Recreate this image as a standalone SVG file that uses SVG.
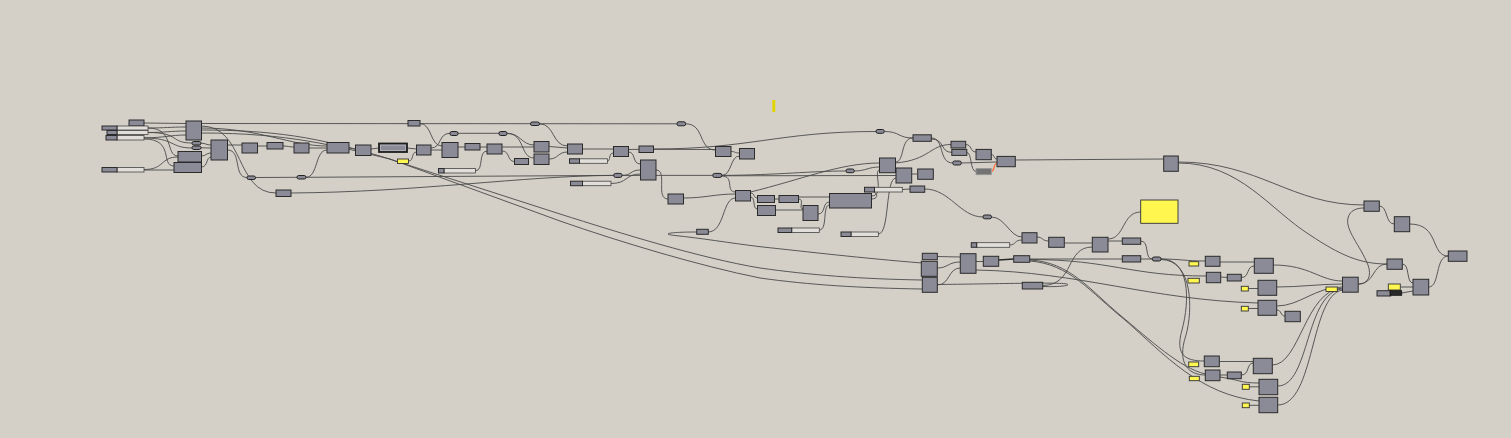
<svg xmlns="http://www.w3.org/2000/svg" width="1511" height="438" viewBox="0 0 1511 438">
<style>
.n{fill:#8b8a97;stroke:#2b2b2b;stroke-width:1}
.o{fill:#8b8a97;stroke:#222;stroke-width:1}
.pl{fill:#e2dfda;stroke:#444;stroke-width:0.8}
.y{fill:#fff650;stroke:#333;stroke-width:0.9}
.w{fill:none;stroke:#4a4a4a;stroke-width:0.9}
.wt{fill:none;stroke:#2a2a2a;stroke-width:1.7}
</style>
<rect width="1511" height="438" fill="#d4d0c8"/>
<g id="wires">
<path class="w" d="M144,123 L186,123.5"/>
<path class="w" d="M201,123.5 L677,123.8"/>
<path class="w" d="M148,128 C165,128 170,127 186,127"/>
<path class="w" d="M148,132.5 C165,132.5 170,131 186,131"/>
<path class="w" d="M144,137.8 C165,137.8 170,135 186,135"/>
<path class="w" d="M148,128 C175,128 165,156 178,156"/>
<path class="w" d="M148,132.5 C180,132.5 170,143 192,143"/>
<path class="w" d="M144,138 C175,138 170,148 192,148"/>
<path class="w" d="M144,139 C175,139 160,166 174,166"/>
<path class="w" d="M144,169.5 C165,169.5 160,157 178,157"/>
<path class="w" d="M144,170 L174,170"/>
<path class="w" d="M201,143.2 C206,143.2 206,145 211,145"/>
<path class="w" d="M201,147.8 L211,148"/>
<path class="w" d="M201.5,156 C206,156 206,153 211,153"/>
<path class="w" d="M201.5,167 C208,167 206,157 211,157"/>
<path class="w" d="M227.5,145 L242,145"/>
<path class="w" d="M257.5,146 L267,146"/>
<path class="w" d="M283,146 C288,146 289,147 294,147"/>
<path class="w" d="M309,148 L327,148"/>
<path class="w" d="M227.5,150 C242,150 233,177.5 247,177.5"/>
<path class="w" d="M255.5,177.5 L297,177.3"/>
<path class="w" d="M306,177.3 C318,177.3 315,150 327,150"/>
<path class="w" d="M201,126 C245,126 235,193 276,193"/>
<path class="w" d="M201,128 C260,128 290,146 327,146"/>
<path class="w" d="M201,130 C290,130 330,142 380,156 L560,214 C620,233 700,258 760,268 C810,275 860,279 922,280"/>
<path class="w" d="M201,133 C290,133 335,146 390,159 L560,221 C620,242 700,266 760,278 C810,285 860,288 922,289"/>
<path class="w" d="M937,284.5 C990,284 1060,282 1067,284 C1072,286 1055,287 1042.7,286.5"/>
<path class="w" d="M696.7,232 C670,232 660,234 675,235.5 C700,238 730,243 760,246.7 C810,252 860,258 922,263"/>
<path class="w" d="M349,148 L355.5,149"/>
<path class="w" d="M371,149 L379,148"/>
<path class="w" d="M407,148 L416.5,149"/>
<path class="w" d="M408.7,161 C414,161 411,152 416.5,152"/>
<path class="w" d="M420,123.5 C432,123.5 430,146 442,146"/>
<path class="w" d="M431,150 L442,150"/>
<path class="w" d="M431,148 C442,148 438,133.3 450,133.3"/>
<path class="w" d="M458,133.3 L499,133.3"/>
<path class="w" d="M458,147 L465,147"/>
<path class="w" d="M480,147 L487,147"/>
<path class="w" d="M475.5,170.8 C484,170.8 478,151 487,151"/>
<path class="w" d="M502.3,147 L534,147"/>
<path class="w" d="M502.3,151 C510,151 507,161.5 514.5,161.5"/>
<path class="w" d="M507.3,133.3 C520,133.3 522,145 534,145"/>
<path class="w" d="M507.3,133.5 C525,133.5 520,158 534,158"/>
<path class="w" d="M549.3,146.5 L567.5,148"/>
<path class="w" d="M549.3,159 C558,159 558,152 567.5,152"/>
<path class="w" d="M539.3,123.8 C555,123.8 552,146 567.5,146"/>
<path class="w" d="M582.5,149 L613.5,149"/>
<path class="w" d="M607.5,161 C611,161 608,153 613.5,153"/>
<path class="w" d="M628.5,149.5 L639,149.3"/>
<path class="w" d="M628.5,152 C636,152 632,164 640.5,164"/>
<path class="w" d="M622,175.4 C632,175.4 630,170 640.5,170"/>
<path class="w" d="M611,183.5 C628,183.5 625,174 640.5,174"/>
<path class="w" d="M291,193 C420,192 520,176 613.8,175.4"/>
<path class="w" d="M306,177.3 L613.8,175.4"/>
<path class="w" d="M622,175.4 L712.8,175.4"/>
<path class="w" d="M685.6,123.8 C705,123.8 698,150 715.5,150"/>
<path class="w" d="M653.5,149.3 L715.5,149.5"/>
<path class="w" d="M653.5,149 C750,149 780,131.5 876,131.5"/>
<path class="w" d="M731,151.5 C736,151.5 734,153 739.5,153"/>
<path class="w" d="M721.7,175.4 C732,175.4 730,156 739.5,156"/>
<path class="w" d="M656,170 C668,170 655,199 668,199"/>
<path class="w" d="M683.5,198 C705,198 715,194 735.5,194"/>
<path class="w" d="M721.7,176 C735,176 725,192 735.5,192"/>
<path class="w" d="M708,232 C725,232 722,198 735.5,198"/>
<path class="w" d="M750.5,193 C755,193 753,198 757.5,198"/>
<path class="w" d="M750.5,197 C756,197 752,209 757.5,209"/>
<path class="w" d="M774.5,199 L779,199"/>
<path class="w" d="M798.5,197 L829.5,197"/>
<path class="w" d="M798.5,199 C805,199 798,209 803,209"/>
<path class="w" d="M775.5,210 L803,210"/>
<path class="w" d="M818,214 C826,214 822,202 829.5,202"/>
<path class="w" d="M819.3,230 C828,230 822,205 829.5,205"/>
<path class="w" d="M750.5,192 C800,180 840,163 879.5,163"/>
<path class="w" d="M721.7,175.4 C780,175 810,171 846,171"/>
<path class="w" d="M854.3,171 C866,171 868,167 879.5,167"/>
<path class="w" d="M721.7,175.8 L896,175.5"/>
<path class="w" d="M871.5,199 C880,199 878,190 866,189.6"/>
<path class="w" d="M878.3,234 C890,234 885,178 896,178"/>
<path class="w" d="M871.5,196 C885,196 873,170 879.5,170"/>
<path class="w" d="M902.3,189.5 L910,189"/>
<path class="w" d="M911.7,174 L917.7,174"/>
<path class="w" d="M924.7,189 C950,189 960,217 983,217"/>
<path class="w" d="M884.3,131.5 C900,131.5 898,138 913,138"/>
<path class="w" d="M895.5,162 C905,162 900,138 913,138"/>
<path class="w" d="M895.5,163 C930,160 930,144.5 951,144.5"/>
<path class="w" d="M931.3,138 C945,138 938,163 952.8,163"/>
<path class="w" d="M931.3,139 C945,139 940,152.4 951.8,152.4"/>
<path class="w" d="M965.7,144.5 C972,144.5 970,152 976,152"/>
<path class="w" d="M966.8,152.4 C972,152.4 970,171.5 976,171.5"/>
<path class="w" d="M961.3,163 L997,162"/>
<path class="w" d="M991.3,154.5 C995,154.5 993,159 997,159"/>
<path fill="none" stroke="#ff6a2a" stroke-width="1.2" d="M991.3,171.5 C995,171.5 993,163.5 997,163.5"/>
<path class="w" d="M1015.3,160 L1163.7,159"/>
<path class="w" d="M1178.3,162 C1260,162 1290,205 1364,205"/>
<path class="w" d="M1178.3,163 C1240,163 1270,210 1310,235 C1340,255 1360,264 1387,264"/>
<path class="w" d="M1379.3,206 C1388,206 1385,224 1394.3,224"/>
<path class="w" d="M1409.7,224 C1440,224 1430,256 1448.3,256"/>
<path class="w" d="M1358.3,284 C1375,284 1372,264 1387,264"/>
<path class="w" d="M1358.3,284.3 C1368,284 1372,276 1368,265 C1360,245 1345,230 1348,218 C1350,210 1357,208 1364,208"/>
<path class="w" d="M1402.3,264 C1410,264 1406,283 1413,283"/>
<path class="w" d="M1400.3,287 L1413,287"/>
<path class="w" d="M1401.7,293 L1413,291"/>
<path class="w" d="M1428.7,287 C1440,287 1435,256 1448.3,256"/>
<path class="w" d="M991.5,217 C1005,217 1010,237 1022,237"/>
<path class="w" d="M1009.7,245 C1016,245 1014,240 1022,240"/>
<path class="w" d="M1037,237 C1043,237 1042,241 1048.7,241"/>
<path class="w" d="M1064.3,243 L1092.3,243"/>
<path class="w" d="M1042.7,285.5 C1075,285 1065,247 1092.3,247"/>
<path class="w" d="M1108,241 L1122.3,241"/>
<path class="w" d="M1108,239 C1125,239 1122,212 1140.7,212"/>
<path class="w" d="M1140.7,241 C1150,241 1144,259 1152.3,259"/>
<path class="w" d="M1140.7,259 L1152.3,259"/>
<path class="w" d="M937.3,256.5 L960.3,257"/>
<path class="w" d="M937.3,268 C948,268 948,262 960.3,262"/>
<path class="w" d="M937.3,285 C950,285 948,268 960.3,268"/>
<path class="w" d="M976,261.5 L983.3,261.5"/>
<path class="wt" d="M998.7,260 L1013.7,259"/>
<path class="w" d="M1029.7,259 L1122.3,259"/>
<path class="w" d="M1029.7,259.5 C1110,259.5 1130,276 1206.3,276"/>
<path class="w" d="M976,270 C1080,272 1150,300 1258,303"/>
<path class="w" d="M1029.7,260 C1070,262 1090,290 1120,315 C1150,340 1180,368 1205.3,374"/>
<path class="w" d="M1029.7,261 C1070,264 1090,292 1125,320 C1165,355 1200,395 1259,401"/>
<path class="w" d="M1161,259 C1180,259 1185,261 1205.3,261"/>
<path class="w" d="M1161,259 C1190,259 1190,300 1182,330 C1175,355 1185,361 1204.3,361"/>
<path class="w" d="M1161,259.5 C1193,260 1193,310 1186,335 C1176,365 1190,375 1205.3,375"/>
<path class="w" d="M1220,262 L1254.3,262"/>
<path class="w" d="M1241.3,277.5 C1250,277.5 1246,266 1254.3,266"/>
<path class="w" d="M1220.7,277 L1227.3,277.5"/>
<path class="w" d="M1248.3,288.5 L1258,288.5"/>
<path class="w" d="M1248.3,308.5 L1258,308.5"/>
<path class="w" d="M1276.7,310 C1282,310 1280,316 1285,316"/>
<path class="w" d="M1273.3,265 C1310,265 1320,281 1342.5,281"/>
<path class="w" d="M1276.7,287 C1300,287 1320,284 1342.5,284"/>
<path class="w" d="M1276.7,306 C1300,306 1315,287 1342.5,287"/>
<path class="w" d="M1272.3,365 C1300,365 1305,290 1342.5,288"/>
<path class="w" d="M1277.7,386 C1310,386 1305,292 1342.5,289"/>
<path class="w" d="M1277.7,405 C1315,405 1310,295 1342.5,290"/>
<path class="w" d="M1219.3,361.5 L1253.3,361.5"/>
<path class="w" d="M1241.3,375 C1250,375 1246,363 1253.3,363"/>
<path class="w" d="M1220,375 L1227.3,375"/>
<path class="w" d="M1220,377 C1240,380 1240,383 1259,383"/>
<path class="w" d="M1249.3,386.8 L1259,386.8"/>
<path class="w" d="M1249.3,405.3 L1259,405.3"/>
</g>
<g id="n1"><rect class="n" x="129" y="120" width="15" height="6"/></g>
<g id="s1"><rect class="pl" x="117" y="126" width="31" height="4"/><rect class="n" x="102" y="126" width="15" height="4"/></g>
<g id="s2"><rect class="pl" x="117" y="130.5" width="31" height="4"/><rect class="n" x="107" y="130.5" width="10" height="4"/></g>
<g id="s3"><rect class="pl" x="117" y="135.5" width="27" height="4.5"/><rect class="n" x="106" y="135.5" width="11" height="4.5"/></g>
<g id="s4"><rect class="pl" x="117" y="167.5" width="27" height="4.5"/><rect class="n" x="102" y="167.5" width="15" height="4.5"/></g>
<g id="n2"><rect class="n" x="186" y="121" width="15.5" height="19"/></g>
<g id="o1"><rect class="o" x="192" y="141.5" width="9" height="3.5" rx="1.7"/></g>
<g id="o2"><rect class="o" x="192" y="146" width="9" height="3.5" rx="1.7"/></g>
<g id="n3"><rect class="n" x="211" y="140" width="16.5" height="20"/></g>
<g id="n4"><rect class="n" x="178" y="151.5" width="23.5" height="10.5"/></g>
<g id="n5"><rect class="n" x="174" y="162.5" width="27.5" height="10"/></g>
<g id="n6"><rect class="n" x="242" y="143" width="15.5" height="10"/></g>
<g id="n7"><rect class="n" x="267" y="142.5" width="16" height="6.5"/></g>
<g id="n8"><rect class="n" x="294" y="143" width="15" height="10"/></g>
<g id="n9"><rect class="n" x="327" y="142.5" width="22" height="10.5"/></g>
<g id="o3"><rect class="o" x="247" y="176" width="8.5" height="3.5" rx="1.7"/></g>
<g id="o4"><rect class="o" x="297" y="175.5" width="9" height="3.5" rx="1.7"/></g>
<g id="n10"><rect class="n" x="276" y="190" width="15" height="6.5"/></g>
<g id="n11"><rect class="n" x="355.5" y="145" width="15.5" height="10.5"/></g>
<g id="n12"><rect fill="#8b8a97" stroke="#1e1e1e" stroke-width="1.8" x="379" y="143.5" width="28" height="8.5"/><rect fill="none" stroke="#c4c3cc" stroke-width="0.6" x="380.6" y="145.1" width="24.8" height="5.3"/></g>
<g id="n13"><rect class="n" x="408" y="120.5" width="12" height="5.5"/></g>
<g id="y1"><rect class="y" x="397.5" y="159" width="11" height="4.5"/></g>
<g id="n14"><rect class="n" x="416.5" y="145" width="14.5" height="10"/></g>
<g id="n15"><rect class="n" x="442" y="142.5" width="16" height="15"/></g>
<g id="o5"><rect class="o" x="450" y="131.5" width="8" height="4" rx="1.8"/></g>
<g id="n16"><rect class="n" x="465" y="143.5" width="15" height="6.5"/></g>
<g id="n17"><rect class="n" x="487" y="144" width="15" height="10"/></g>
<g id="o6"><rect class="o" x="499" y="131.5" width="8" height="4" rx="1.8"/></g>
<g id="o7"><rect class="o" x="530.5" y="122" width="9" height="3.5" rx="1.7"/></g>
<g id="n18"><rect class="n" x="514.5" y="158.5" width="14" height="6"/></g>
<g id="n19"><rect class="n" x="534" y="141.5" width="15" height="10.5"/></g>
<g id="n20"><rect class="n" x="534" y="154" width="15" height="10.5"/></g>
<g id="n21"><rect class="n" x="567.5" y="144" width="15" height="10"/></g>
<g id="p5"><rect class="pl" x="444" y="168.5" width="31.5" height="4.5"/><rect class="n" x="438.5" y="168.5" width="5.5" height="4.5"/></g>
<g id="p6"><rect class="pl" x="579.5" y="158.8" width="28" height="4.5"/><rect class="n" x="569.5" y="158.8" width="10" height="4.5"/></g>
<g id="p7"><rect class="pl" x="582.5" y="181.2" width="28.5" height="4.5"/><rect class="n" x="570.5" y="181.2" width="12" height="4.5"/></g>
<g id="n22"><rect class="n" x="613.5" y="146.5" width="15" height="10"/></g>
<g id="n23"><rect class="n" x="639" y="146" width="14.5" height="6.5"/></g>
<g id="n24"><rect class="n" x="640.5" y="160" width="15.5" height="20"/></g>
<g id="o8"><rect class="o" x="613.8" y="173.4" width="8.2" height="4" rx="1.8"/></g>
<g id="o9"><rect class="o" x="677" y="121.8" width="8.6" height="4" rx="1.8"/></g>
<g id="o10"><rect class="o" x="712.8" y="173.4" width="9" height="4" rx="1.8"/></g>
<g id="n25"><rect class="n" x="715.5" y="146.5" width="15.5" height="10"/></g>
<g id="n26"><rect class="n" x="739.5" y="148.5" width="15" height="10.5"/></g>
<g id="n27"><rect class="n" x="668" y="194" width="15.5" height="10"/></g>
<g id="n28"><rect class="n" x="735.5" y="190.5" width="15" height="10.5"/></g>
<g id="n29"><rect class="n" x="757.5" y="195.5" width="17" height="7"/></g>
<g id="n30"><rect class="n" x="779" y="195.5" width="19.5" height="7"/></g>
<g id="n31"><rect class="n" x="757.5" y="205.5" width="18" height="10"/></g>
<g id="n32"><rect class="n" x="803" y="205.5" width="15" height="15"/></g>
<g id="n33"><rect class="n" x="829.5" y="193.5" width="42" height="14.5"/></g>
<g id="n34"><rect class="n" x="696.7" y="229.3" width="11.6" height="5"/></g>
<g id="p8"><rect class="pl" x="791.7" y="228" width="27.6" height="4.5"/><rect class="n" x="778" y="228" width="13.7" height="4.5"/></g>
<g id="p9"><rect class="pl" x="851" y="232" width="27.3" height="4.5"/><rect class="n" x="841" y="232" width="10" height="4.5"/></g>
<g id="bar"><rect x="772.3" y="100" width="3" height="12" fill="#e2d600"/></g>
<g id="o11"><rect class="o" x="876" y="129.5" width="8.3" height="3.8" rx="1.8"/></g>
<g id="n35"><rect class="n" x="913" y="134.8" width="18.3" height="6.5"/></g>
<g id="n36"><rect class="n" x="951" y="141.3" width="14.7" height="6.7"/></g>
<g id="n37"><rect class="n" x="951.8" y="149.4" width="15" height="6"/></g>
<g id="n38"><rect class="n" x="976" y="149.4" width="15.3" height="10.3"/></g>
<g id="n39"><rect class="n" x="997" y="156.4" width="18.3" height="10.3"/></g>
<g id="o12"><rect class="o" x="952.8" y="161" width="8.5" height="4" rx="1.8"/></g>
<g id="g1"><rect x="976" y="168.4" width="15.3" height="6.3" fill="#737373" stroke="#9a9a9a" stroke-width="0.8"/></g>
<g id="n40"><rect class="n" x="879.5" y="158" width="16" height="14.7"/></g>
<g id="n41"><rect class="n" x="896" y="168" width="15.7" height="15"/></g>
<g id="n42"><rect class="n" x="917.7" y="169" width="15.6" height="10.3"/></g>
<g id="o13"><rect class="o" x="846" y="169" width="8.3" height="3.7" rx="1.8"/></g>
<g id="p10"><rect class="pl" x="874.5" y="187.3" width="27.8" height="4.7"/><rect class="n" x="864.5" y="187.3" width="10" height="4.7"/></g>
<g id="n43"><rect class="n" x="910" y="186" width="14.7" height="6.3"/></g>
<g id="o14"><rect class="o" x="983" y="215" width="8.5" height="3.8" rx="1.8"/></g>
<g id="n44"><rect class="n" x="1022" y="232.7" width="15" height="10.3"/></g>
<g id="p11"><rect class="pl" x="976.7" y="242.7" width="33" height="4.6"/><rect class="n" x="971.3" y="242.7" width="5.4" height="4.6"/></g>
<g id="n45"><rect class="n" x="1048.7" y="237.3" width="15.6" height="10"/></g>
<g id="n46"><rect class="n" x="1092.3" y="237.3" width="15.7" height="14.7"/></g>
<g id="n47"><rect class="n" x="1122.3" y="238" width="18.4" height="6.3"/></g>
<g id="n48"><rect class="n" x="1122.3" y="255.7" width="18.4" height="6.3"/></g>
<g id="n49"><rect class="n" x="922.3" y="253.3" width="15" height="6.4"/></g>
<g id="n50"><rect class="n" x="921.3" y="261.3" width="16" height="15"/></g>
<g id="n51"><rect class="n" x="922.3" y="277.3" width="15" height="15"/></g>
<g id="n52"><rect class="n" x="960.3" y="253.7" width="15.7" height="19.6"/></g>
<g id="n53"><rect class="n" x="983.3" y="256.3" width="15.4" height="10"/></g>
<g id="n54"><rect class="n" x="1013.7" y="255.7" width="16" height="6.6"/></g>
<g id="n55"><rect class="n" x="1022.3" y="282.3" width="20.4" height="6.7"/></g>
<g id="n56"><rect class="n" x="1163.7" y="156" width="14.6" height="15.3"/></g>
<g id="ybig"><rect class="y" x="1140.7" y="200" width="37.3" height="23.3"/></g>
<g id="o15"><rect class="o" x="1152.3" y="257" width="8.7" height="4" rx="1.8"/></g>
<g id="ya"><rect class="y" x="1189" y="261.7" width="9.7" height="4.3"/></g>
<g id="n57"><rect class="n" x="1205.3" y="256.3" width="14.7" height="10"/></g>
<g id="n58"><rect class="n" x="1254.3" y="258.3" width="19" height="15"/></g>
<g id="yb"><rect class="y" x="1188" y="278.3" width="11.3" height="4.7"/></g>
<g id="n59"><rect class="n" x="1206.3" y="272.3" width="14.4" height="10.4"/></g>
<g id="n60"><rect class="n" x="1227.3" y="274.3" width="14" height="6.7"/></g>
<g id="yc"><rect class="y" x="1241.3" y="286.3" width="7" height="4.7"/></g>
<g id="n61"><rect class="n" x="1258" y="280.3" width="18.7" height="15"/></g>
<g id="yd"><rect class="y" x="1241.3" y="306.3" width="7" height="4.7"/></g>
<g id="n62"><rect class="n" x="1258" y="300.3" width="18.7" height="15"/></g>
<g id="n63"><rect class="n" x="1285" y="311.3" width="15.3" height="10.4"/></g>
<g id="n64"><rect class="n" x="1342.5" y="277.2" width="15.7" height="15"/></g>
<g id="ye"><rect class="y" x="1326" y="287" width="11.3" height="4.5"/></g>
<g id="n65"><rect class="n" x="1364" y="201" width="15.3" height="10.3"/></g>
<g id="n66"><rect class="n" x="1394.3" y="216.7" width="15.4" height="15"/></g>
<g id="n67"><rect class="n" x="1448.3" y="251" width="18.7" height="10.3"/></g>
<g id="n68"><rect class="n" x="1387" y="259" width="15.3" height="10.3"/></g>
<g id="n69"><rect class="n" x="1413" y="279.3" width="15.7" height="15.7"/></g>
<g id="yf"><rect class="y" x="1388.3" y="284" width="12" height="6"/></g>
<g id="gp"><rect class="n" x="1377" y="290.7" width="13.7" height="5.3"/></g>
<g id="blk"><rect x="1390" y="290.7" width="11.7" height="4.6" fill="#2a2a2a" stroke="#111" stroke-width="0.8"/></g>
<g id="yg"><rect class="y" x="1188.7" y="362" width="10" height="4.7"/></g>
<g id="n70"><rect class="n" x="1204.3" y="356" width="15" height="10.7"/></g>
<g id="n71"><rect class="n" x="1253.3" y="358.3" width="19" height="15.4"/></g>
<g id="yh"><rect class="y" x="1189.3" y="376.3" width="10" height="4.4"/></g>
<g id="n72"><rect class="n" x="1205.3" y="370" width="14.7" height="10.7"/></g>
<g id="n73"><rect class="n" x="1227.3" y="372" width="14" height="6.7"/></g>
<g id="yi"><rect class="y" x="1242.3" y="384.3" width="7" height="5"/></g>
<g id="n74"><rect class="n" x="1259" y="379.3" width="18.7" height="15.4"/></g>
<g id="yj"><rect class="y" x="1242.3" y="403" width="7" height="4.7"/></g>
<g id="n75"><rect class="n" x="1259" y="397.3" width="18.7" height="15.4"/></g>
</svg>
